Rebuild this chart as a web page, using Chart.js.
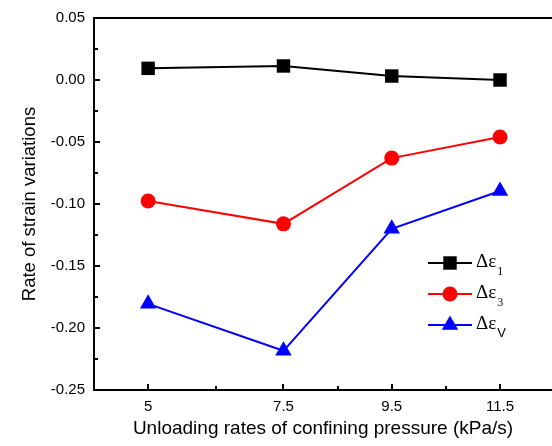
<!DOCTYPE html>
<html><head><meta charset="utf-8">
<script src="https://cdn.jsdelivr.net/npm/chart.js@4/dist/chart.umd.min.js"></script>
<style>html,body{margin:0;padding:0;background:#fff}</style>
</head><body>
<canvas id="c" width="552" height="446"></canvas>
<script>
const xValues = [5, 7.5, 9.5, 11.5];
const xTickLabels = ['5', '7.5', '9.5', '11.5'];
const xMinorTicks = [6.25, 8.5, 10.5];
const yTickStep = 0.05;
const eps1 = [0.0094, 0.0113, 0.0032, 0.0];
const eps3 = [-0.0976, -0.116, -0.063, -0.046];
const epsV = [-0.1805, -0.2184, -0.120, -0.0895];
const seriesBase = ['Δε', 'Δε', 'Δε'];
const seriesSub = ['1', '3', 'V'];
const xTitle = 'Unloading rates of confining pressure (kPa/s)';
const yTitle = 'Rate of strain variations';

const SANS = '"Liberation Sans", Arial, sans-serif';

function pts(vals) { return xValues.map((x, i) => ({x: x, y: vals[i]})); }

const axesPlugin = {
  id: 'axesPlugin',
  afterDatasetsDraw(chart) {
    const {ctx, chartArea: {left, right, top, bottom}, scales: {x, y}} = chart;
    ctx.save();
    ctx.strokeStyle = '#000';
    ctx.lineWidth = 2;
    ctx.beginPath();
    ctx.moveTo(right + 4, top); ctx.lineTo(left, top); ctx.lineTo(left, bottom); ctx.lineTo(right + 4, bottom);
    ctx.stroke();
    ctx.lineWidth = 2;
    ctx.beginPath();
    const yt = y.ticks.map(t => t.value);
    yt.forEach(v => { const p = Math.round(y.getPixelForValue(v)); ctx.moveTo(left, p); ctx.lineTo(left + 6, p); });
    for (let i = 0; i < yt.length - 1; i++) {
      const p = Math.round(y.getPixelForValue((yt[i] + yt[i + 1]) / 2));
      ctx.moveTo(left, p); ctx.lineTo(left + 4, p);
    }
    xValues.forEach(v => { const p = Math.round(x.getPixelForValue(v)); ctx.moveTo(p, bottom); ctx.lineTo(p, bottom - 6); });
    xMinorTicks.forEach(v => { const p = Math.round(x.getPixelForValue(v)); ctx.moveTo(p, bottom); ctx.lineTo(p, bottom - 4); });
    ctx.stroke();
    ctx.restore();
  }
};

function drawMarker(ctx, style, r, cx, cy, color) {
  ctx.fillStyle = color;
  ctx.beginPath();
  if (style === 'rect') {
    const s = Math.SQRT1_2 * r;
    ctx.rect(cx - s, cy - s, 2 * s, 2 * s);
  } else if (style === 'circle') {
    ctx.arc(cx, cy, r, 0, Math.PI * 2);
  } else if (style === 'triangle') {
    ctx.moveTo(cx, cy - r);
    ctx.lineTo(cx + r * Math.sin(Math.PI / 3), cy + r * 0.5);
    ctx.lineTo(cx - r * Math.sin(Math.PI / 3), cy + r * 0.5);
    ctx.closePath();
  }
  ctx.fill();
}

const legendPlugin = {
  id: 'legendPlugin',
  afterDraw(chart) {
    const ctx = chart.ctx;
    ctx.save();
    chart.data.datasets.forEach((ds, i) => {
      const yy = 263 + i * 31;
      ctx.strokeStyle = ds.borderColor;
      ctx.lineWidth = 2;
      ctx.beginPath(); ctx.moveTo(428, yy); ctx.lineTo(472, yy); ctx.stroke();
      drawMarker(ctx, ds.pointStyle, ds.pointRadius, 450, yy, ds.backgroundColor);
      ctx.fillStyle = '#000';
      ctx.textAlign = 'left';
      ctx.textBaseline = 'alphabetic';
      ctx.font = '19px "Liberation Serif", "DejaVu Serif", serif';
      ctx.fillText(seriesBase[i], 476, yy + 4);
      const w = ctx.measureText(seriesBase[i]).width;
      ctx.font = (seriesSub[i] === 'V' ? '13px ' + SANS : '12px "Liberation Serif", serif');
      ctx.fillText(seriesSub[i], 476 + w + 1, yy + 12);
    });
    ctx.restore();
  }
};

new Chart(document.getElementById('c'), {
  type: 'line',
  data: {
    datasets: [
      {label: seriesBase[0] + seriesSub[0], data: pts(eps1), borderColor: '#000000', backgroundColor: '#000000',
       pointStyle: 'rect', pointRadius: 9.5, borderWidth: 2, pointBorderWidth: 0},
      {label: seriesBase[1] + seriesSub[1], data: pts(eps3), borderColor: '#ff0000', backgroundColor: '#ff0000',
       pointStyle: 'circle', pointRadius: 7.5, borderWidth: 2, pointBorderWidth: 0},
      {label: seriesBase[2] + seriesSub[2], data: pts(epsV), borderColor: '#0000ff', backgroundColor: '#0000ff',
       pointStyle: 'triangle', pointRadius: 9.5, borderWidth: 2, pointBorderWidth: 0}
    ]
  },
  options: {
    responsive: false,
    animation: false,
    devicePixelRatio: 1,
    layout: {autoPadding: false, padding: {top: 18, right: 0, left: 0, bottom: 0}},
    plugins: {legend: {display: false}, tooltip: {enabled: false}},
    elements: {line: {tension: 0}},
    scales: {
      x: {
        type: 'linear', min: 4, max: 12.46,
        afterBuildTicks(scale) { scale.ticks = xValues.map(v => ({value: v})); },
        afterFit(scale) { scale.height = 56; scale.paddingLeft = 0; scale.paddingRight = 0; },
        grid: {display: false, drawTicks: false},
        border: {display: false},
        ticks: {
          color: '#000', padding: 8, maxRotation: 0, autoSkip: false,
          font: {family: SANS, size: 15},
          callback(v) { const i = xValues.indexOf(v); return i >= 0 ? xTickLabels[i] : ''; }
        },
        title: {display: true, text: xTitle, color: '#000', font: {family: SANS, size: 19, lineHeight: 1}, padding: {top: 0, bottom: 8}}
      },
      y: {
        min: -0.25, max: 0.05,
        afterFit(scale) { scale.width = 94; scale.paddingTop = 0; scale.paddingBottom = 0; },
        grid: {display: false, drawTicks: false},
        border: {display: false},
        ticks: {
          stepSize: yTickStep, color: '#000', padding: 9,
          font: {family: SANS, size: 15},
          callback(v) { const n = Math.abs(v) < 1e-9 ? 0 : v; return Number(n).toFixed(2); }
        },
        title: {display: true, text: yTitle, color: '#000', font: {family: SANS, size: 18.5, lineHeight: 1}, padding: {top: 21, bottom: 0}}
      }
    }
  },
  plugins: [axesPlugin, legendPlugin]
});
</script>
</body></html>
